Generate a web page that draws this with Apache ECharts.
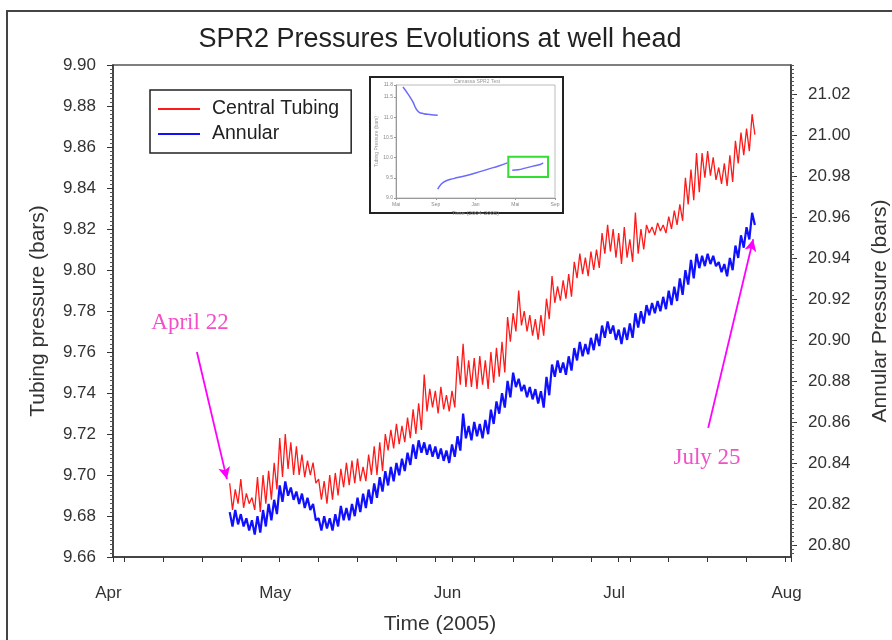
<!DOCTYPE html>
<html>
<head>
<meta charset="utf-8">
<title>SPR2 Pressures Evolutions at well head</title>
<script src="https://cdn.jsdelivr.net/npm/echarts@6/dist/echarts.min.js"></script>
<style>
  html, body { margin: 0; padding: 0; background: #ffffff; }
  #chart { width: 892px; height: 640px; }
</style>
</head>
<body>
<div id="chart"></div>
<script>
// ---- Main record: daily high / low readings, first day = April 22 (day 21 counted from April 1, 2005)
const firstDay = 21;

const tubingHigh = [
  9.696, 9.693, 9.698, 9.691, 9.689, 9.699, 9.700, 9.702, 9.706, 9.718,
  9.720, 9.716, 9.714, 9.710, 9.707, 9.706, 9.698, 9.697, 9.700, 9.701,
  9.703, 9.706, 9.707, 9.708, 9.704, 9.710, 9.714, 9.716, 9.720, 9.722,
  9.725, 9.724, 9.728, 9.732, 9.735, 9.749, 9.742, 9.741, 9.743, 9.739,
  9.741, 9.758, 9.764, 9.756, 9.757, 9.758, 9.756, 9.760, 9.762, 9.765,
  9.777, 9.779, 9.790, 9.780, 9.778, 9.776, 9.778, 9.786, 9.797, 9.792,
  9.795, 9.798, 9.804, 9.808, 9.806, 9.809, 9.810, 9.818, 9.822, 9.820,
  9.818, 9.821, 9.815, 9.828, 9.820, 9.822, 9.821, 9.823, 9.822, 9.826,
  9.829, 9.832, 9.845, 9.849, 9.857, 9.857, 9.858, 9.855, 9.850, 9.852,
  9.856, 9.863, 9.867, 9.869, 9.876
];
const tubingLow = [
  9.683, 9.686, 9.684, 9.686, 9.683, 9.682, 9.686, 9.688, 9.693, 9.699,
  9.703, 9.700, 9.700, 9.699, 9.700, 9.696, 9.688, 9.686, 9.688, 9.690,
  9.694, 9.695, 9.696, 9.697, 9.697, 9.700, 9.700, 9.702, 9.712, 9.713,
  9.715, 9.716, 9.718, 9.720, 9.722, 9.731, 9.733, 9.730, 9.732, 9.731,
  9.733, 9.744, 9.743, 9.743, 9.742, 9.744, 9.742, 9.745, 9.748, 9.750,
  9.765, 9.770, 9.773, 9.770, 9.768, 9.766, 9.768, 9.776, 9.784, 9.785,
  9.786, 9.787, 9.796, 9.798, 9.797, 9.800, 9.801, 9.808, 9.809, 9.806,
  9.803, 9.806, 9.804, 9.808, 9.810, 9.818, 9.817, 9.819, 9.818, 9.820,
  9.822, 9.824, 9.832, 9.834, 9.838, 9.845, 9.846, 9.844, 9.842, 9.841,
  9.843, 9.852, 9.856, 9.858, 9.866
];
const annularHigh = [
  20.816, 20.817, 20.815, 20.813, 20.812, 20.814, 20.817, 20.820, 20.822, 20.829,
  20.831, 20.828, 20.826, 20.825, 20.823, 20.820, 20.813, 20.814, 20.813, 20.815,
  20.819, 20.818, 20.820, 20.823, 20.825, 20.827, 20.830, 20.833, 20.836, 20.838,
  20.840, 20.842, 20.845, 20.849, 20.851, 20.850, 20.849, 20.848, 20.847, 20.846,
  20.849, 20.853, 20.864, 20.858, 20.860, 20.859, 20.861, 20.866, 20.870, 20.874,
  20.880, 20.884, 20.881, 20.878, 20.877, 20.876, 20.875, 20.882, 20.888, 20.890,
  20.889, 20.892, 20.896, 20.899, 20.898, 20.901, 20.903, 20.907, 20.909, 20.907,
  20.905, 20.906, 20.908, 20.913, 20.914, 20.917, 20.918, 20.919, 20.921, 20.924,
  20.926, 20.930, 20.934, 20.939, 20.942, 20.941, 20.942, 20.941, 20.938, 20.937,
  20.940, 20.946, 20.951, 20.955, 20.962
];
const annularLow = [
  20.809, 20.810, 20.809, 20.807, 20.805, 20.806, 20.809, 20.812, 20.815, 20.821,
  20.824, 20.822, 20.820, 20.818, 20.817, 20.812, 20.807, 20.808, 20.807, 20.809,
  20.812, 20.812, 20.814, 20.816, 20.818, 20.820, 20.823, 20.826, 20.829, 20.831,
  20.834, 20.836, 20.839, 20.842, 20.845, 20.844, 20.843, 20.842, 20.841, 20.840,
  20.843, 20.846, 20.852, 20.851, 20.853, 20.852, 20.854, 20.859, 20.864, 20.867,
  20.872, 20.877, 20.875, 20.872, 20.871, 20.869, 20.867, 20.873, 20.882, 20.884,
  20.883, 20.885, 20.890, 20.892, 20.893, 20.895, 20.897, 20.901, 20.903, 20.900,
  20.898, 20.900, 20.901, 20.906, 20.908, 20.912, 20.913, 20.914, 20.915, 20.917,
  20.919, 20.922, 20.927, 20.930, 20.935, 20.936, 20.937, 20.936, 20.933, 20.931,
  20.934, 20.940, 20.945, 20.949, 20.956
];

// ---- Axis ticks and labels
const monthStarts = [0, 30, 61, 91, 122];
const monthLabels = ['Apr', 'May', 'Jun', 'Jul', 'Aug'];
const sundays = [2, 9, 16, 23, 37, 44, 51, 58, 65, 72, 79, 86, 93, 100, 107, 114, 121];
const tubingRange = [9.66, 9.90];
const annularRange = [20.7941, 21.0341];
const annularTicks = [20.80, 20.82, 20.84, 20.86, 20.88, 20.90, 20.92, 20.94, 20.96, 20.98, 21.00, 21.02];

// ---- Whole-test overview (months counted from May 2004)
const overviewEarlyMonths = [0.7, 1.2, 1.7, 2.0, 2.3, 2.8, 3.4, 4.2];
const overviewEarlyValues = [11.75, 11.58, 11.38, 11.22, 11.13, 11.09, 11.07, 11.05];
const overviewLateMonths = [4.2, 4.5, 5.0, 5.8, 6.8, 8.0, 9.2, 10.4, 11.2];
const overviewLateValues = [9.22, 9.33, 9.42, 9.48, 9.54, 9.62, 9.71, 9.80, 9.87];
const overviewRecentMonths = [11.7, 12.3, 13.0, 13.8, 14.5, 14.8];
const overviewRecentValues = [9.69, 9.70, 9.74, 9.79, 9.83, 9.87];
const overviewMonthLabels = ['Mai', 'Sep', 'Jan', 'Mai', 'Sep'];
const overviewWindow = { months: [11.3, 15.3], values: [9.52, 10.02] };

// ---- Annotation arrows (day, tubing pressure)
const aprilArrow = [[15.1, 9.760], [20.5, 9.698]];
const julyArrow = [[107.1, 9.723], [115.2, 9.815]];

function zigzag(highs, lows) {
  const pts = [];
  for (let i = 0; i < highs.length; i++) {
    pts.push([firstDay + i, highs[i]]);
    pts.push([firstDay + i + 0.5, lows[i]]);
  }
  return pts;
}
function pairs(xs, ys) { return xs.map((x, i) => [x, ys[i]]); }

const minorAnnular = [];
for (let v = 20.796; v < 21.034; v += 0.002) minorAnnular.push(+v.toFixed(3));

const FONT = 'Liberation Sans, Arial, sans-serif';
const SERIF = 'Liberation Serif, Times New Roman, serif';
const ink = '#333333';

const chart = echarts.init(document.getElementById('chart'), null, { renderer: 'canvas' });

chart.setOption({
  animation: false,
  backgroundColor: '#ffffff',
  textStyle: { fontFamily: FONT },
  grid: [
    { left: 113, top: 65, right: 101, bottom: 83, show: true, borderColor: '#555', borderWidth: 1.5,
      containLabel: false, outerBoundsMode: 'none' },
    { left: 396, top: 85, width: 159, height: 113, show: true, borderColor: '#bbbbbb', borderWidth: 1,
      containLabel: false, outerBoundsMode: 'none' }
  ],
  legend: {
    left: 150, top: 90,
    orient: 'vertical',
    data: ['Central Tubing', 'Annular'],
    icon: 'rect', itemWidth: 42, itemHeight: 2, itemGap: 5,
    borderColor: '#222', borderWidth: 1.5,
    padding: [9, 12, 9, 8],
    textStyle: { fontSize: 19.5, color: '#222', fontFamily: FONT, lineHeight: 19, padding: [0, 0, 0, 7] }
  },
  xAxis: [
    {
      type: 'value', gridIndex: 0, min: 0, max: 122,
      axisLine: { lineStyle: { color: ink, width: 1.5 } },
      axisTick: { show: true, inside: false, length: 5, lineStyle: { color: ink },
                  customValues: monthStarts.concat(sundays) },
      axisLabel: { customValues: monthStarts, margin: 28, fontSize: 17, color: ink,
                   padding: [0, 9, 0, 0],
                   formatter: v => monthLabels[monthStarts.indexOf(Math.round(v))] || '' },
      splitLine: { show: false },
      name: 'Time (2005)', nameLocation: 'middle', nameGap: 57,
      nameTextStyle: { fontSize: 21, color: ink, padding: [0, 24, 0, 0] }
    },
    {
      type: 'value', gridIndex: 1, min: 0, max: 16, interval: 4,
      axisLine: { lineStyle: { color: '#999', width: 1 } },
      axisTick: { length: 2, lineStyle: { color: '#999' } },
      axisLabel: { fontSize: 5, color: '#888', margin: 4,
                   formatter: v => overviewMonthLabels[Math.round(v / 4)] || '' },
      splitLine: { show: false },
      name: 'Time (2004-2005)', nameLocation: 'middle', nameGap: 12,
      nameTextStyle: { fontSize: 6, color: '#888' }
    }
  ],
  yAxis: [
    {
      type: 'value', gridIndex: 0, position: 'left',
      min: tubingRange[0], max: tubingRange[1], interval: 0.02,
      axisLine: { show: true, lineStyle: { color: ink, width: 1.5 } },
      axisTick: { show: true, length: 6, lineStyle: { color: ink } },
      minorTick: { show: true, splitNumber: 10, length: 3, lineStyle: { color: '#555' } },
      axisLabel: { fontSize: 17, color: ink, margin: 17, formatter: v => v.toFixed(2) },
      splitLine: { show: false },
      name: 'Tubing pressure (bars)', nameLocation: 'middle', nameGap: 64, nameRotate: 90,
      nameTextStyle: { fontSize: 21, color: ink }
    },
    {
      type: 'value', gridIndex: 0, position: 'right',
      min: annularRange[0], max: annularRange[1],
      axisLine: { show: true, lineStyle: { color: ink, width: 1.5 } },
      axisTick: { show: true, length: 6, lineStyle: { color: ink }, customValues: annularTicks },
      axisLabel: { fontSize: 17, color: ink, margin: 17, customValues: annularTicks,
                   formatter: v => v.toFixed(2) },
      splitLine: { show: false },
      name: 'Annular Pressure (bars)', nameLocation: 'middle', nameGap: 79, nameRotate: 90,
      nameTextStyle: { fontSize: 21, color: ink }
    },
    {
      type: 'value', gridIndex: 0, position: 'right',
      min: annularRange[0], max: annularRange[1],
      axisLine: { show: false },
      axisTick: { show: true, length: 3, lineStyle: { color: '#555' }, customValues: minorAnnular },
      axisLabel: { show: false },
      splitLine: { show: false }
    },
    {
      type: 'value', gridIndex: 1, min: 9.0, max: 11.8, interval: 0.5,
      axisLine: { show: true, lineStyle: { color: '#999', width: 1 } },
      axisTick: { length: 2, lineStyle: { color: '#999' } },
      axisLabel: { fontSize: 5, color: '#888', margin: 3, formatter: v => v.toFixed(1) },
      splitLine: { show: false },
      name: 'Tubing Pressure (bars)', nameLocation: 'middle', nameGap: 16, nameRotate: 90,
      nameTextStyle: { fontSize: 5, color: '#999' }
    }
  ],
  series: [
    {
      name: 'Central Tubing', type: 'line', xAxisIndex: 0, yAxisIndex: 0,
      data: zigzag(tubingHigh, tubingLow),
      showSymbol: false, symbol: 'none',
      lineStyle: { color: '#ff1a1a', width: 1.3 }, itemStyle: { color: '#ff1a1a' },
      z: 3,
      markLine: {
        silent: true, symbol: ['none', 'arrow'], symbolSize: [9, 12],
        label: { show: false },
        lineStyle: { color: '#ff00ff', width: 1.8, type: 'solid' },
        data: [
          [{ coord: aprilArrow[0] }, { coord: aprilArrow[1] }],
          [{ coord: julyArrow[0] }, { coord: julyArrow[1] }]
        ]
      }
    },
    {
      name: 'Annular', type: 'line', xAxisIndex: 0, yAxisIndex: 1,
      data: zigzag(annularHigh, annularLow),
      showSymbol: false, symbol: 'none',
      lineStyle: { color: '#1010ff', width: 2.2 }, itemStyle: { color: '#1010ff' },
      z: 4
    },
    {
      name: 'overview-early', type: 'line', xAxisIndex: 1, yAxisIndex: 3,
      data: pairs(overviewEarlyMonths, overviewEarlyValues), smooth: true,
      symbol: 'none', lineStyle: { color: '#6a6aff', width: 1.5 }
    },
    {
      name: 'overview-late', type: 'line', xAxisIndex: 1, yAxisIndex: 3,
      data: pairs(overviewLateMonths, overviewLateValues), smooth: true,
      symbol: 'none', lineStyle: { color: '#6a6aff', width: 1.5 }
    },
    {
      name: 'overview-recent', type: 'line', xAxisIndex: 1, yAxisIndex: 3,
      data: pairs(overviewRecentMonths, overviewRecentValues), smooth: true,
      symbol: 'none', lineStyle: { color: '#6a6aff', width: 1.5 },
      markArea: {
        silent: true,
        itemStyle: { color: 'rgba(0,0,0,0)', borderColor: '#33dd33', borderWidth: 2 },
        data: [[
          { coord: [overviewWindow.months[0], overviewWindow.values[1]] },
          { coord: [overviewWindow.months[1], overviewWindow.values[0]] }
        ]]
      }
    }
  ],
  graphic: [
    { type: 'rect', shape: { x: 7, y: 11, width: 1000, height: 1000 },
      style: { fill: 'none', stroke: '#444', lineWidth: 2 }, silent: true },
    { type: 'text', x: 440, y: 40,
      style: { text: 'SPR2 Pressures Evolutions at well head', fill: '#222',
               font: '27px ' + FONT, textAlign: 'center', textVerticalAlign: 'middle' } },
    { type: 'rect', shape: { x: 370, y: 77, width: 193, height: 136 },
      style: { fill: 'none', stroke: '#222', lineWidth: 2 }, silent: true },
    { type: 'text', x: 477, y: 82,
      style: { text: 'Camassa SPR2 Test', fill: '#999', font: '5px ' + FONT,
               textAlign: 'center', textVerticalAlign: 'middle' } },
    { type: 'text', x: 190, y: 323,
      style: { text: 'April 22', fill: '#f24fc8', font: '23px ' + SERIF,
               textAlign: 'center', textVerticalAlign: 'middle' } },
    { type: 'text', x: 707, y: 458,
      style: { text: 'July 25', fill: '#f24fc8', font: '23px ' + SERIF,
               textAlign: 'center', textVerticalAlign: 'middle' } }
  ]
});
</script>
</body>
</html>
